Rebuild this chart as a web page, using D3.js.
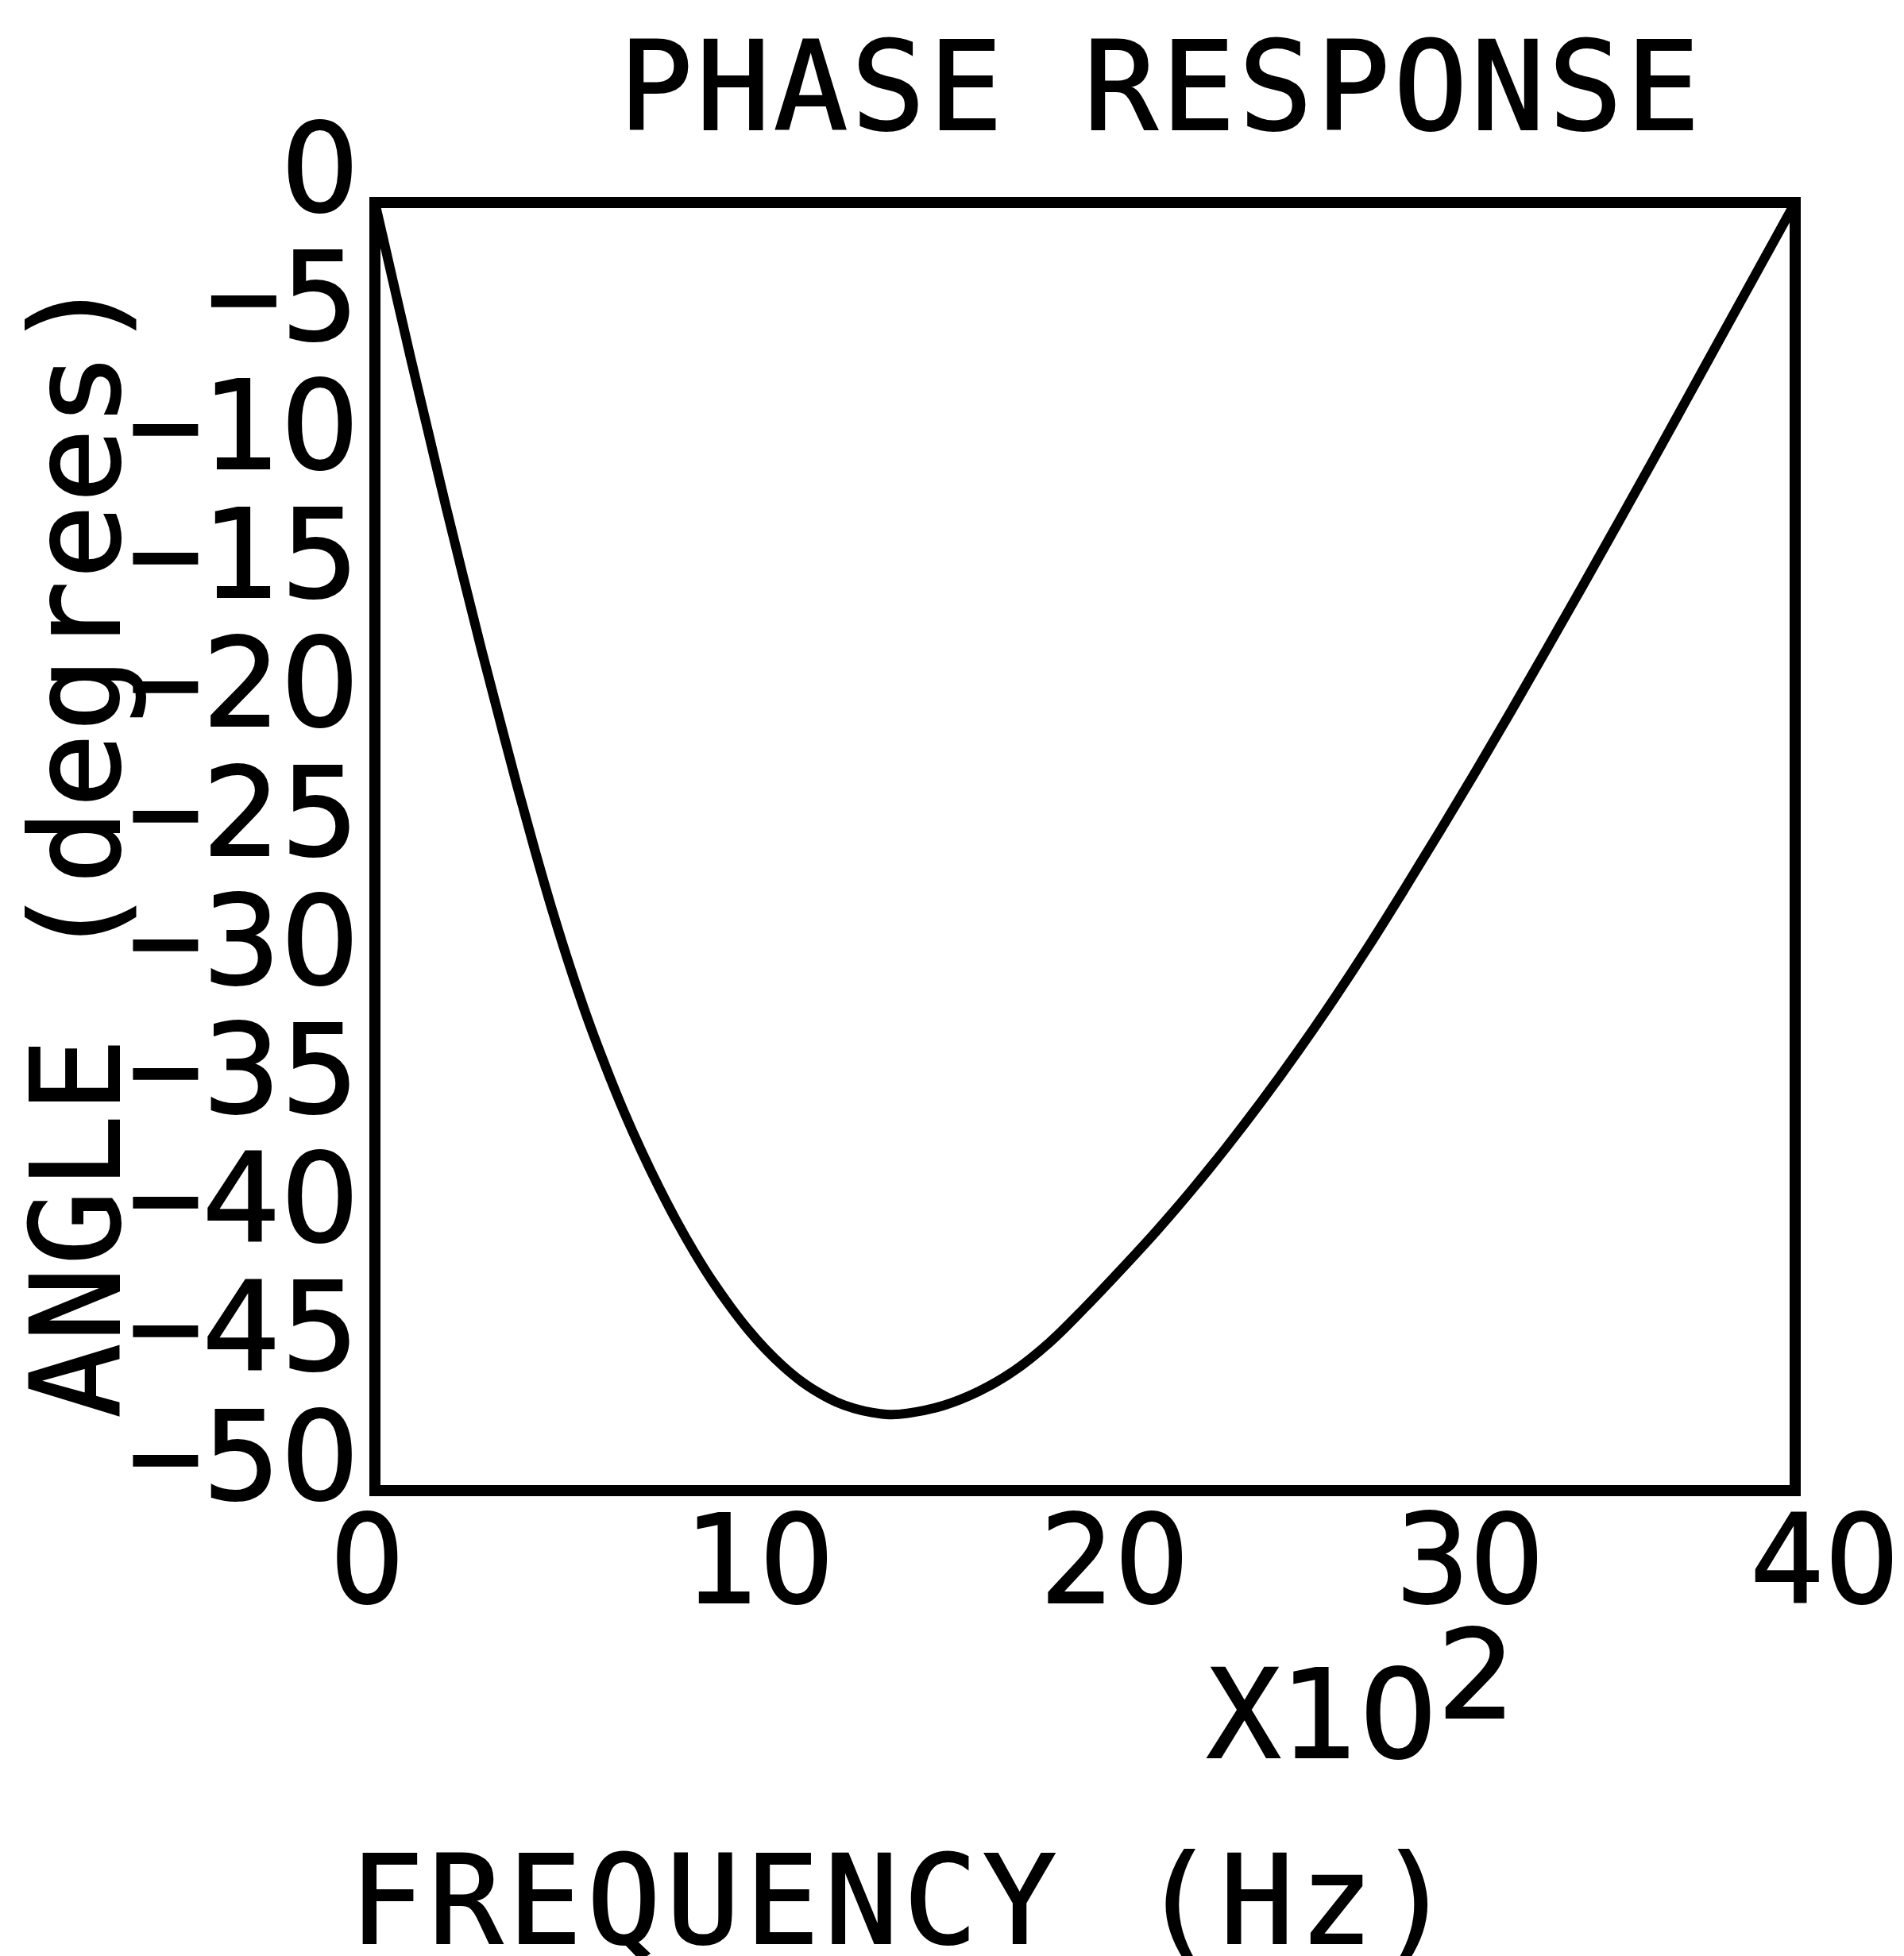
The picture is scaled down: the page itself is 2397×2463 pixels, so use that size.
<!DOCTYPE html>
<html>
<head>
<meta charset="utf-8">
<script src="https://cdn.jsdelivr.net/npm/d3@7"></script>
<style>
  body { margin: 0; background: #fff; }
  svg { display: block; }
</style>
</head>
<body>
<script>
// frequency in units of 10^2 Hz, angle in degrees
var freq = [0, 0.5, 1, 1.5, 2, 2.5, 3, 3.5, 4, 4.5, 5, 5.5, 6, 6.5, 7, 7.5, 8, 8.5, 9, 9.5, 10,
  10.5, 11, 11.5, 12, 12.5, 13, 13.5, 14, 14.5, 15, 16, 17, 18, 19, 20, 21, 22, 23, 24, 25,
  26, 27, 28, 29, 30, 31, 32, 33, 34, 35, 36, 37, 38, 39, 40];
var angle = [0, -3.0, -6.0, -8.9, -11.8, -14.6, -17.35, -20.0, -22.62, -25.12, -27.5, -29.7, -31.72, -33.55, -35.25, -36.8, -38.23, -39.55, -40.76, -41.86, -42.84,
  -43.73, -44.51, -45.18, -45.75, -46.2, -46.56, -46.81, -46.97, -47.05, -47.0, -46.7, -46.15, -45.35, -44.25, -42.89, -41.44, -39.94, -38.34, -36.64, -34.84,
  -32.94, -30.94, -28.84, -26.64, -24.39, -22.09, -19.74, -17.34, -14.92, -12.47, -10.0, -7.5, -5.0, -2.5, 0];
var xTicks = [0, 10, 20, 30, 40];
var yTicks = [0, -5, -10, -15, -20, -25, -30, -35, -40, -45, -50];

var width = 2397, height = 2463;
var plotLeft = 472, plotRight = 2260, plotTop = 255, plotBottom = 1877;
var mono = "'DejaVu Sans Mono', monospace";
var digitFont = "'DejaVu Sans', sans-serif";
var fs = 155;

var svg = d3.select("body").append("svg")
  .attr("width", width)
  .attr("height", height);

var x = d3.scaleLinear().domain([0, 40]).range([plotLeft, plotRight]);
var y = d3.scaleLinear().domain([-50, 0]).range([plotBottom, plotTop]);

// mono letters, but plain (undotted) zeros for the digits
function writeText(sel, str) {
  sel.text(null);
  var runs = str.match(/[0-9]+|[^0-9]+/g) || [];
  runs.forEach(function(r) {
    sel.append("tspan")
      .style("font-family", /[0-9]/.test(r) ? digitFont : mono)
      .text(r);
  });
}

function minusFmt(d) { return d === 0 ? "0" : "\u2212" + Math.abs(d); }

var yAxis = d3.axisLeft(y)
  .tickValues(yTicks)
  .tickSize(0)
  .tickPadding(20)
  .tickFormat(minusFmt);

var gy = svg.append("g")
  .attr("transform", "translate(" + plotLeft + ",0)")
  .call(yAxis);
gy.select(".domain").remove();
gy.selectAll("text")
  .attr("dy", null)
  .attr("y", 10)
  .attr("fill", "#000")
  .attr("stroke", "#000")
  .attr("stroke-width", 2)
  .style("font-size", fs + "px")
  .each(function(d) { writeText(d3.select(this), minusFmt(d)); });

var xAxis = d3.axisBottom(x)
  .tickValues(xTicks)
  .tickSize(0)
  .tickFormat(d3.format("d"));

var gx = svg.append("g")
  .attr("transform", "translate(0," + plotBottom + ")")
  .call(xAxis);
gx.select(".domain").remove();
gx.selectAll("text")
  .attr("dy", null)
  .attr("y", 141)
  .attr("x", -57)
  .attr("text-anchor", "start")
  .attr("fill", "#000")
  .attr("stroke", "#000")
  .attr("stroke-width", 2)
  .attr("textLength", function(d) { return String(d).length * fs * 0.636 * 0.95; })
  .attr("lengthAdjust", "spacingAndGlyphs")
  .style("font-size", fs + "px")
  .each(function(d) { writeText(d3.select(this), String(d)); });

// frame
svg.append("rect")
  .attr("x", plotLeft)
  .attr("y", plotTop)
  .attr("width", plotRight - plotLeft)
  .attr("height", plotBottom - plotTop)
  .attr("fill", "none")
  .attr("stroke", "#000")
  .attr("stroke-width", 14);

var line = d3.line()
  .x(function(d) { return x(d[0]); })
  .y(function(d) { return y(d[1]); })
  .curve(d3.curveCatmullRom);

svg.append("path")
  .datum(d3.zip(freq, angle))
  .attr("d", line)
  .attr("fill", "none")
  .attr("stroke", "#000")
  .attr("stroke-width", 12)
  .attr("stroke-linejoin", "round");

function label(txt, px, py, ls) {
  var t = svg.append("text")
    .attr("x", px)
    .attr("y", py)
    .attr("fill", "#000")
    .attr("stroke", "#000")
    .attr("stroke-width", 2)
    .style("font-size", fs + "px")
    .style("letter-spacing", ls + "px");
  writeText(t, txt);
  return t;
}

label("PHASE RESPONSE", 779, 163, 4.2);
label("FREQUENCY (Hz)", 440, 2447, 6.3);

var mult = label("X10", 1519, 2213, 0);
mult.append("tspan").attr("dy", -50).style("font-family", digitFont).text("2");

svg.append("text")
  .attr("transform", "translate(150,1065) rotate(-90)")
  .attr("text-anchor", "middle")
  .attr("fill", "#000")
  .attr("stroke", "#000")
  .attr("stroke-width", 2)
  .style("font-family", mono)
  .style("font-size", fs + "px")
  .style("letter-spacing", "2.7px")
  .text("ANGLE (degrees)");
</script>
</body>
</html>
